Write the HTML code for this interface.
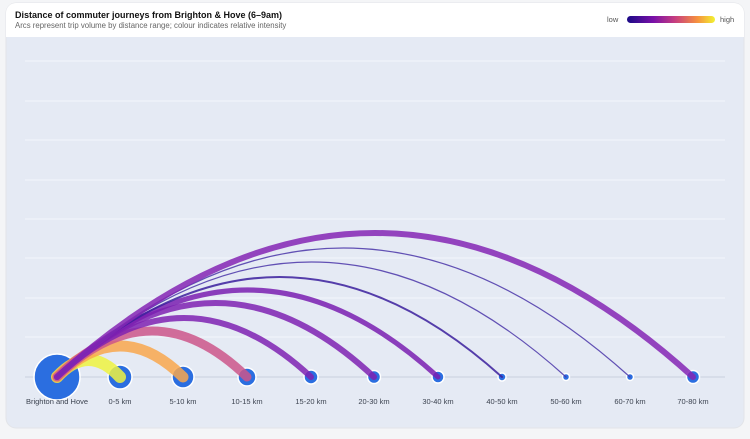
<!DOCTYPE html>
<html><head><style>
body{margin:0;background:#f4f5f7;width:750px;height:434px;overflow:hidden;font-family:"Liberation Sans",sans-serif}
</style></head><body>
<svg width="750" height="434" xmlns="http://www.w3.org/2000/svg" font-family="Liberation Sans, sans-serif">
<defs>
<linearGradient id="lg" x1="0" x2="1"><stop offset="0" stop-color="#1a0a86"/><stop offset="0.3" stop-color="#7a10a8"/><stop offset="0.55" stop-color="#c83f7e"/><stop offset="0.8" stop-color="#f6913f"/><stop offset="1" stop-color="#f2f231"/></linearGradient>
<clipPath id="card"><rect x="6" y="3" width="738" height="425" rx="10"/></clipPath>
</defs>
<rect x="6" y="3" width="738" height="425" rx="10" fill="#e5eaf4" stroke="#e2e4e8"/>
<g clip-path="url(#card)"><rect x="6" y="3" width="738" height="34" fill="#fff"/></g>
<text x="15" y="18" font-size="9" font-weight="bold" fill="#111">Distance of commuter journeys from Brighton &amp; Hove (6–9am)</text>
<text x="15" y="28" font-size="7.8" fill="#666">Arcs represent trip volume by distance range; colour indicates relative intensity</text>
<text x="607" y="22" font-size="7.5" fill="#555">low</text>
<rect x="627" y="16" width="88" height="7" rx="3.5" fill="url(#lg)"/>
<text x="720" y="22" font-size="7.5" fill="#555">high</text>
<g stroke="#f3f5fb" stroke-width="1">
<line x1="25" x2="725" y1="61" y2="61"/><line x1="25" x2="725" y1="101" y2="101"/><line x1="25" x2="725" y1="140" y2="140"/><line x1="25" x2="725" y1="180" y2="180"/><line x1="25" x2="725" y1="219" y2="219"/><line x1="25" x2="725" y1="258" y2="258"/><line x1="25" x2="725" y1="298" y2="298"/><line x1="25" x2="725" y1="337" y2="337"/>
</g>
<line x1="25" x2="725" y1="377" y2="377" stroke="#cfd5e2" stroke-width="1.2"/>
<g fill="#2b6ee0" stroke="#fff" stroke-width="1.5">
<circle cx="57" cy="377" r="23"/><circle cx="120" cy="377" r="12"/><circle cx="183" cy="377" r="11"/><circle cx="247" cy="377" r="9"/><circle cx="311" cy="377" r="7"/><circle cx="374" cy="377" r="6.5"/><circle cx="438" cy="377" r="6"/><circle cx="502" cy="377" r="4"/><circle cx="566" cy="377" r="3.5"/><circle cx="630" cy="377" r="3.5"/><circle cx="693" cy="377" r="6.5"/>
</g>
<g fill="none" stroke-linecap="round" stroke-opacity="0.85">
<path d="M57 377 Q88.5 343 120 377" stroke="#eef33f" stroke-width="12"/>
<path d="M57 377 Q120 315 183 377" stroke="#f9a74c" stroke-width="11"/>
<path d="M57 377 Q152 285 247 377" stroke="#cc5689" stroke-width="9"/>
<path d="M57 377 Q184 259 311 377" stroke="#7f22b2" stroke-width="6"/>
<path d="M57 377 Q215.5 229 374 377" stroke="#7f22b2" stroke-width="6"/>
<path d="M57 377 Q247.5 203 438 377" stroke="#7a1fb0" stroke-width="5"/>
<path d="M57 377 Q279.5 177 502 377" stroke="#3b1f9c" stroke-width="2"/>
<path d="M57 377 Q311.5 147 566 377" stroke="#4a35a8" stroke-width="1.2"/>
<path d="M57 377 Q343.5 119 630 377" stroke="#4a35a8" stroke-width="1.2"/>
<path d="M57 377 Q375 89 693 377" stroke="#8526b4" stroke-width="6"/>
</g>
<g font-size="7.5" fill="#3c4350" text-anchor="middle">
<text x="57" y="404">Brighton and Hove</text><text x="120" y="404">0-5 km</text><text x="183" y="404">5-10 km</text><text x="247" y="404">10-15 km</text><text x="311" y="404">15-20 km</text><text x="374" y="404">20-30 km</text><text x="438" y="404">30-40 km</text><text x="502" y="404">40-50 km</text><text x="566" y="404">50-60 km</text><text x="630" y="404">60-70 km</text><text x="693" y="404">70-80 km</text>
</g>
</svg>
</body></html>
